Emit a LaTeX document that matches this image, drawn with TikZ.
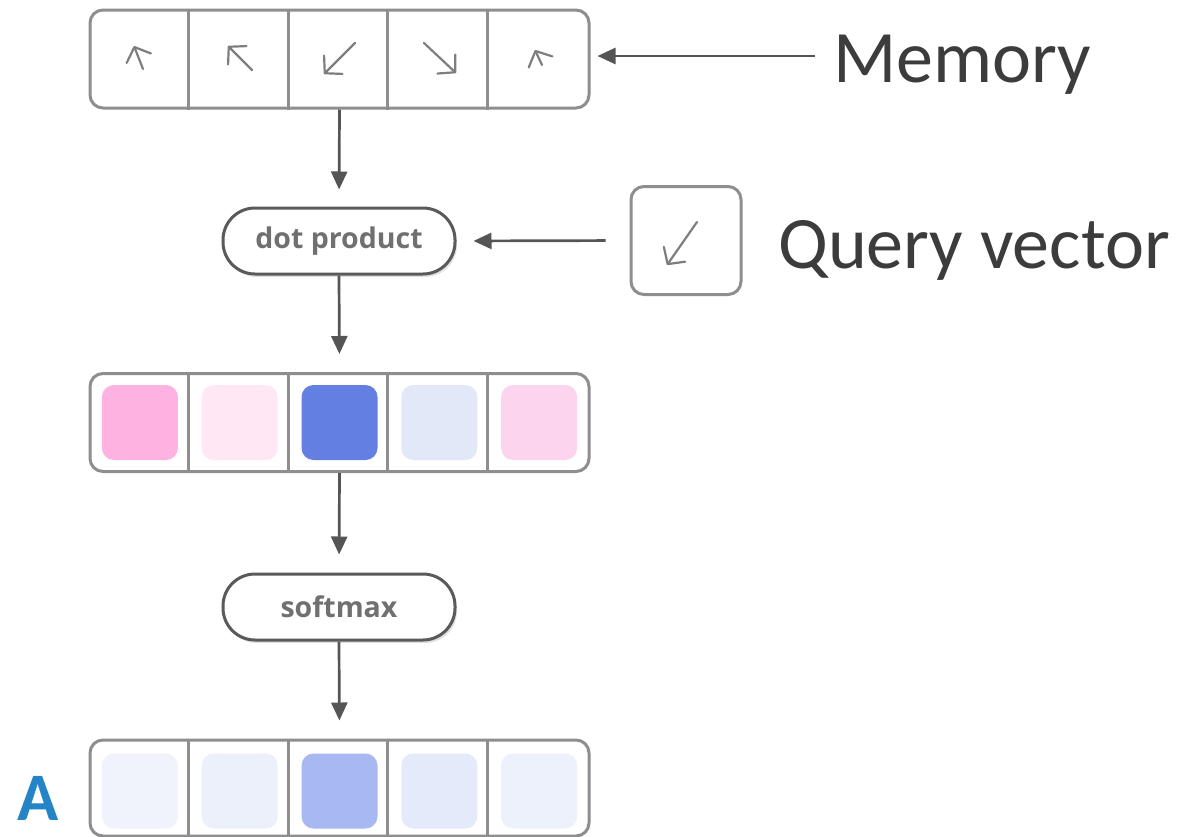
\documentclass[tikz,border=0pt]{standalone}
\usepackage{fontspec}
\usetikzlibrary{arrows.meta,shadows,calc}
\newfontfamily\calib{Carlito}
\newfontfamily\osans{Open Sans}
\definecolor{boxgray}{HTML}{8E8E8E}
\definecolor{pilldark}{HTML}{5A5A5A}
\definecolor{pilltext}{HTML}{707070}
\definecolor{arrowgray}{HTML}{555555}
\definecolor{glyphgray}{HTML}{7E7E7E}
\definecolor{labeldark}{HTML}{3C3C3C}
\definecolor{ablue}{HTML}{2484C6}
\definecolor{sA}{HTML}{FDB2E2}
\definecolor{sB}{HTML}{FFE7F4}
\definecolor{sC}{HTML}{637FE2}
\definecolor{sD}{HTML}{E2E8F8}
\definecolor{sE}{HTML}{FDD4EE}
\definecolor{aA}{HTML}{F0F3FC}
\definecolor{aB}{HTML}{ECF0FB}
\definecolor{aC}{HTML}{A8B8F0}
\definecolor{aD}{HTML}{E5EAFA}
\definecolor{aE}{HTML}{EDF1FC}
\begin{document}
\begin{tikzpicture}[x=1pt,y=-1pt,
  rowbox/.style={draw=boxgray, line width=3pt, rounded corners=13pt, minimum width=499pt, minimum height=98pt, inner sep=0pt, fill=white},
  divider/.style={draw=boxgray, line width=3pt},
  cellsq/.style={rounded corners=12pt, minimum width=76pt, minimum height=75pt, inner sep=0pt},
  pill/.style={draw=pilldark, line width=3pt, rounded corners=32pt, minimum width=232pt, minimum height=66pt, fill=white, inner sep=0pt, font=\osans\bfseries\fontsize{28.5}{32}\selectfont, text=pilltext, drop shadow={shadow xshift=2pt, shadow yshift=-3pt, opacity=0.12, fill=black}},
  flow/.style={draw=arrowgray, line width=2.7pt, -{Triangle[length=18pt,width=16pt]}},
  glyph/.style={draw=glyphgray, line width=2.2pt, line cap=round, -{Straight Barb[length=12pt,width=26pt,round]}},
  bigtext/.style={font=\calib\fontsize{74}{80}\selectfont, text=labeldark, anchor=base west, inner sep=0pt}
]
\useasboundingbox (0,0) rectangle (1181,836);

% Memory row
\node[rowbox] (mem) at (339.5,59) {};
\foreach \i in {1,...,4}{
  \draw[divider] ($(mem.north west)+(\i*99.8,0)$) -- ($(mem.south west)+(\i*99.8,0)$);
}
\draw[glyph] (143,69) -- (134,46);
\draw[glyph] (252,70) -- (228,46);
\draw[glyph] (355,43) -- (324,74);
\draw[glyph] (424,43) -- (456,73);
\draw[glyph] (542,65) -- (535,50);

\node[bigtext] (memlabel) at (833,82) {Memory};
\coordinate (memtail) at (815,56);
\draw[flow, shorten >=7pt] (memtail) -- (mem.east |- memtail);

% dot product
\node[pill] (dot) at (339,241) {dot product};

% Query
\node[draw=boxgray, line width=3pt, rounded corners=13pt, minimum width=110pt, minimum height=108pt, fill=white] (query) at (686,240.5) {};
\draw[glyph] (697,222) -- (667,265);
\node[bigtext] (querylabel) at (778,268) {Query vector};
\draw[flow, shorten <=24pt, shorten >=17pt] (query.west) -- (dot.east);

% scores row
\node[rowbox] (scores) at (339.5,422.5) {};
\foreach \i in {1,...,4}{
  \draw[divider] ($(scores.north west)+(\i*99.8,0)$) -- ($(scores.south west)+(\i*99.8,0)$);
}
\node[cellsq, fill=sA] (s1) at (139.9,422.5) {};
\node[cellsq, fill=sB] (s2) at (239.7,422.5) {};
\node[cellsq, fill=sC] (s3) at (339.5,422.5) {};
\node[cellsq, fill=sD] (s4) at (439.3,422.5) {};
\node[cellsq, fill=sE] (s5) at (539.1,422.5) {};

% softmax
\node[pill] (soft) at (339,607) {softmax};

% attention row
\node[rowbox, minimum height=96pt] (attn) at (339.5,788) {};
\foreach \i in {1,...,4}{
  \draw[divider] ($(attn.north west)+(\i*99.8,0)$) -- ($(attn.south west)+(\i*99.8,0)$);
}
\node[cellsq, fill=aA] (a1) at (139.9,791) {};
\node[cellsq, fill=aB] (a2) at (239.7,791) {};
\node[cellsq, fill=aC] (a3) at (339.5,791) {};
\node[cellsq, fill=aD] (a4) at (439.3,791) {};
\node[cellsq, fill=aE] (a5) at (539.1,791) {};
\node[font=\calib\bfseries\fontsize{68}{70}\selectfont, text=ablue, anchor=base, inner sep=0pt] (alabel) at (38,820) {A};

% vertical flow
\draw[flow, shorten >=17pt] (mem.south) -- (dot.north);
\draw[flow, shorten >=18pt] (dot.south) -- (scores.north);
\draw[flow, shorten >=18pt] (scores.south) -- (soft.north);
\draw[flow, shorten >=18pt] (soft.south) -- (attn.north);
\end{tikzpicture}
\end{document}
